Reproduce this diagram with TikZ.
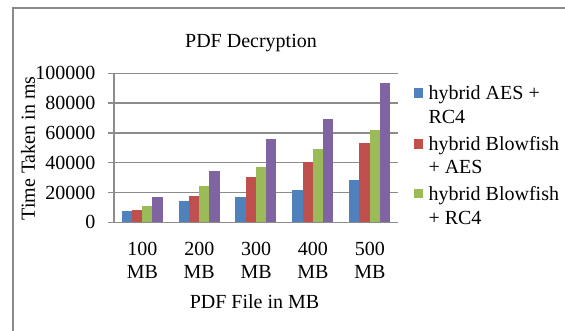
\documentclass[tikz,border=0pt]{standalone}
\usepackage{fontspec}
\setmainfont{Liberation Serif}
\definecolor{sblue}{HTML}{4F81BD}
\definecolor{sred}{HTML}{C0504D}
\definecolor{sgreen}{HTML}{9BBB59}
\definecolor{spurple}{HTML}{8064A2}
\definecolor{gridc}{HTML}{8C8C8C}
\definecolor{framec}{HTML}{8A8A8A}
\begin{document}
\begin{tikzpicture}[x=1pt,y=-1pt,
  lbl/.style={inner sep=0pt,font=\fontsize{20}{23.5}\selectfont},
  grid/.style={draw=gridc,line width=1.5pt},
  key/.style={inner sep=0pt,minimum width=9.3pt,minimum height=9.3pt}]
\useasboundingbox (0,0) rectangle (565,331);
\clip (0,0) rectangle (565,331);
% frame
\coordinate (f1) at (12.8,340);
\coordinate (f2) at (12.8,8.3);
\coordinate (f3) at (570,8.3);
\draw[framec,line width=2pt] (f1) -- (f2) -- (f3);
% gridlines and ticks
\foreach \v/\t in {0/0,20/20000,40/40000,60/60000,80/80000,100/100000}{
  \coordinate (gl\v) at (108.3,{222.3-1.49*\v});
  \coordinate (gr\v) at (398.3,{222.3-1.49*\v});
  \draw[grid] (gl\v) -- (gr\v);
  \node[lbl,anchor=east] (yl\v) at (95.5,{222.3-1.49*\v}) {\t};
}
\coordinate (ax1) at (114,73.3);
\coordinate (ax2) at (114,222.3);
\draw[grid] (ax1) -- (ax2);
% bars
\foreach \i/\a/\b/\c/\d in {0/7.4/8.3/10.8/16.8,1/14.35/17.7/24.4/34.75,2/16.8/30.5/37.2/56.05,3/22/40.6/49.3/69.5,4/28.7/53.4/61.9/93.5}{
  \pgfmathsetmacro{\xo}{121.7+56.86*\i}
  \fill[sblue] (\xo,222.3) rectangle ++(10.25,{-1.49*\a});
  \fill[sred] (\xo+10.25,222.3) rectangle ++(10.25,{-1.49*\b});
  \fill[sgreen] (\xo+20.5,222.3) rectangle ++(10.25,{-1.49*\c});
  \fill[spurple] (\xo+30.75,222.3) rectangle ++(10.25,{-1.49*\d});
}
\draw[grid] (gl0) -- (gr0);
% category labels
\foreach \i/\t in {0/100,1/200,2/300,3/400,4/500}{
  \node[lbl,align=center,anchor=base] (c\i) at ({142.4+56.86*\i},279) {\t\\MB};
}
% titles
\node[lbl] (title) at (251,43) {PDF Decryption};
\node[lbl] (xt) at (254.5,301.5) {PDF File in MB};
\node[lbl,rotate=90] (yt) at (28,148.5) {Time Taken in ms};
% legend
\node[key,fill=sblue] (k1) at (418.7,93) {};
\node[key,fill=sred] (k2) at (418.7,144) {};
\node[key,fill=sgreen] (k3) at (418.7,193.7) {};
\node[lbl,anchor=base west,align=left] (t1) at (428.3,123.5) {hybrid AES +\\RC4};
\node[lbl,anchor=base west,align=left] (t2) at (428.3,174) {hybrid Blowfish\\+ AES};
\node[lbl,anchor=base west,align=left] (t3) at (428.3,224.5) {hybrid Blowfish\\+ RC4};
\end{tikzpicture}
\end{document}
